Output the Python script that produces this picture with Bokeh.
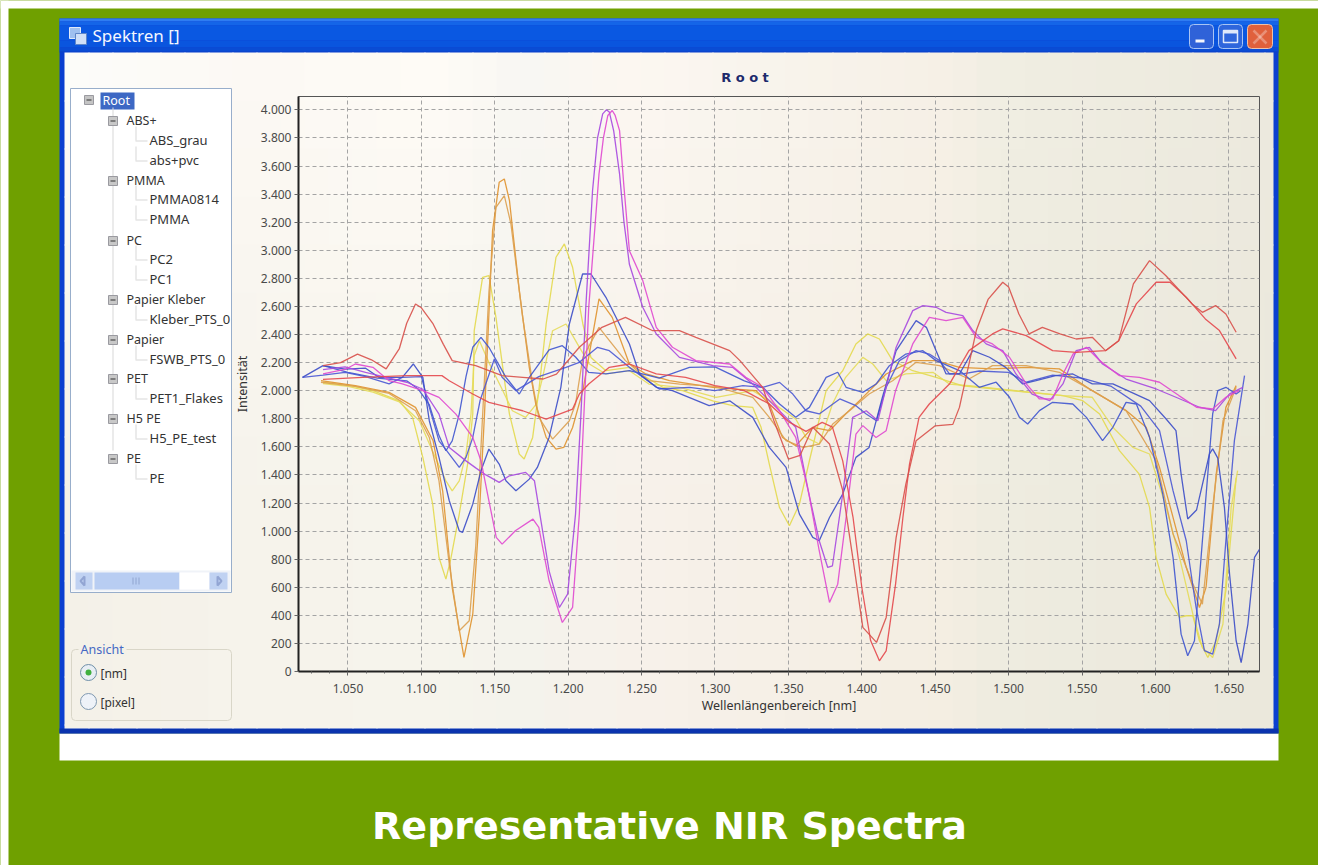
from bokeh.plotting import figure
from bokeh.embed import file_html
from bokeh.resources import INLINE
from bokeh.layouts import column
from bokeh.models import Range1d, FixedTicker, BoxAnnotation, Label, PolyAnnotation, LinearAxis, Grid

# ---------- chart content ----------
x_ticks = [1050, 1100, 1150, 1200, 1250, 1300, 1350, 1400, 1450, 1500, 1550, 1600, 1650]
x_minor = [1025.0, 1037.5, 1062.5, 1075.0, 1087.5, 1112.5, 1125.0, 1137.5, 1162.5, 1175.0, 1187.5, 1212.5, 1225.0, 1237.5,
           1262.5, 1275.0, 1287.5, 1312.5, 1325.0, 1337.5, 1362.5, 1375.0, 1387.5, 1412.5, 1425.0, 1437.5, 1462.5, 1475.0,
           1487.5, 1512.5, 1525.0, 1537.5, 1562.5, 1575.0, 1587.5, 1612.5, 1625.0, 1637.5, 1662.5]
x_tick_labels = ["1.050", "1.100", "1.150", "1.200", "1.250", "1.300", "1.350", "1.400", "1.450", "1.500", "1.550", "1.600", "1.650"]
y_ticks = [0, 200, 400, 600, 800, 1000, 1200, 1400, 1600, 1800, 2000, 2200, 2400, 2600, 2800, 3000, 3200, 3400, 3600, 3800, 4000]
y_tick_labels = ["0", "200", "400", "600", "800", "1.000", "1.200", "1.400", "1.600", "1.800", "2.000", "2.200", "2.400",
                 "2.600", "2.800", "3.000", "3.200", "3.400", "3.600", "3.800", "4.000"]

red1_nm = [1033, 1045, 1056.5, 1066, 1076, 1085, 1090, 1096, 1100, 1108, 1115, 1121, 1137, 1155, 1169, 1183, 1192, 1207.6, 1223, 1239, 1257.6,
           1275.8, 1287, 1310, 1317, 1332.5, 1340, 1350, 1358, 1366.6, 1378, 1387, 1394, 1400.7, 1410, 1416.6, 1423.4, 1430,
           1437, 1450, 1462, 1466.5, 1478, 1486, 1496, 1500, 1507, 1514, 1523, 1535, 1546, 1557, 1566, 1575, 1585, 1596,
           1607, 1625, 1632, 1641, 1648, 1655]
red1_int = [2178, 2200, 2260, 2220, 2155, 2300, 2480, 2617, 2590, 2475, 2330, 2214, 2178, 2107, 2095, 2083, 2118, 2309, 2451, 2522, 2427,
            2427, 2380, 2285, 2214, 2024, 1790, 1513, 1540, 1739, 1620, 1290, 800, 314, 207, 385, 955, 1335,
            1644, 1750, 1760, 1881, 2428, 2650, 2772, 2738, 2546, 2404, 2451, 2404, 2368, 2380, 2285, 2356, 2760, 2926,
            2820, 2618, 2558, 2606, 2546, 2416]
red2_nm = [1033, 1060, 1090, 1114, 1119, 1135, 1146, 1169, 1185, 1203, 1207.6, 1214, 1228, 1241.7, 1260, 1280, 1300, 1320,
           1337, 1350, 1362, 1373, 1380, 1387, 1394, 1400, 1406, 1412, 1416.6, 1423, 1428, 1432.5, 1439, 1446, 1459.7,
           1473, 1489, 1496, 1512, 1530, 1546, 1566, 1575, 1587, 1600.5, 1610, 1621, 1634, 1643.6, 1655]
red2_int = [2080, 2095, 2107, 2107, 2071, 1976, 1917, 1857, 1798, 1869, 1976, 2047, 2166, 2190, 2119, 2095, 2036, 2000,
            1905, 1780, 1710, 1774, 1740, 1500, 1100, 600, 220, 76, 147, 622, 1097, 1477, 1810, 1905, 2047,
            2285, 2404, 2440, 2392, 2285, 2273, 2285, 2356, 2618, 2772, 2772, 2665, 2511, 2428, 2226]

mag1_nm = [1033, 1048.6, 1055, 1067, 1078, 1087, 1101, 1112, 1123.5, 1135, 1140.6, 1146, 1151, 1155, 1164, 1176, 1180, 1187,
           1196, 1203, 1207.6, 1211, 1214, 1221, 1224, 1227, 1230, 1232, 1235, 1238, 1241.7, 1250.8, 1260, 1271, 1287, 1310, 1321, 1332.5,
           1344, 1355, 1364, 1371, 1378, 1383.6, 1389.3, 1396, 1400.7, 1409.7, 1416.6, 1423, 1434.7, 1446, 1457.4, 1468.8,
           1478, 1489, 1500.6, 1512, 1521, 1530, 1537, 1544, 1553, 1562, 1575.5, 1589, 1602.8, 1616, 1628, 1639, 1648, 1657]
mag1_int = [2120, 2154, 2190, 2166, 2071, 2048, 2000, 1952, 1833, 1667, 1501, 1216, 955, 907, 1002, 1085, 1026, 646,
            349, 456, 1121, 1900, 2594, 3544, 3800, 3960, 3995, 3960, 3852, 3450, 2997, 2784, 2451, 2309, 2214, 2190, 2095, 2024,
            1857, 1667, 1264, 860, 492, 622, 1097, 1691, 1751, 1667, 1715, 2000, 2333, 2522, 2499, 2522,
            2380, 2333, 2238, 2048, 1941, 1941, 2119, 2262, 2309, 2214, 2107, 2095, 2060, 1965, 1882, 1870, 1953, 2000]
mag2_nm = [1033, 1048, 1062, 1078, 1090, 1101, 1112, 1119, 1130.4, 1137, 1144, 1153, 1160, 1171, 1177, 1187, 1194, 1199.6,
           1205, 1208.7, 1212, 1216.6, 1220, 1223.5, 1226, 1228, 1231, 1235, 1238, 1241.7, 1250.8, 1260, 1275.8, 1298.5, 1312, 1325.7, 1341.6, 1355,
           1364, 1371, 1376.8, 1380, 1387, 1393.8, 1403, 1411, 1417.7, 1423.4, 1434.7, 1441.6, 1450.6, 1457.4, 1468.8,
           1475.6, 1484.7, 1496, 1505, 1516, 1528, 1537, 1546, 1555, 1564, 1580, 1600.5, 1614, 1630, 1641, 1650.5, 1659.5]
mag2_int = [2150, 2170, 2130, 2090, 2060, 2010, 1833, 1596, 1500, 1450, 1400, 1347, 1394, 1418, 1359, 717, 456, 551,
            1121, 1833, 2594, 3425, 3800, 3971, 4000, 3985, 3850, 3544, 3200, 2900, 2594, 2404, 2237, 2178, 2166, 2047, 1881, 1739,
            1264, 931, 741, 753, 1264, 1810, 1857, 1786, 2071, 2309, 2570, 2606, 2594, 2558, 2534,
            2428, 2333, 2285, 2119, 1976, 1929, 2048, 2285, 2309, 2190, 2083, 2012, 1953, 1882, 1858, 1977, 2024]

org1_nm = [1031.6, 1055, 1078, 1096, 1108, 1114.5, 1121, 1129, 1135, 1139.5, 1143, 1148.5, 1153, 1156.5, 1160, 1166.7, 1173.5,
           1178, 1185, 1191.7, 1197, 1203, 1210, 1221, 1230, 1241.7, 1253, 1269, 1298.5, 1328, 1337, 1346, 1355, 1366.6, 1378,
           1389, 1400.7, 1416.6, 1434.7, 1450.6, 1466.5, 1489, 1512, 1534.6, 1557, 1580, 1593.7, 1602.8, 1612, 1621, 1630,
           1634.5, 1641.4, 1648, 1655]
org1_int = [2071, 2036, 1988, 1881, 1643, 1287, 598, 100, 408, 1121, 1833, 3140, 3484, 3508, 3354, 2712, 2166,
            1900, 1667, 1584, 1596, 1738, 2000, 2653, 2522, 2190, 2119, 2071, 2024, 2000, 1905, 1667, 1608, 1739, 1715,
            1834, 1952, 2119, 2214, 2214, 2166, 2155, 2166, 2155, 2000, 1858, 1739, 1454, 1098, 742, 456,
            599, 1406, 1881, 2036]
org2_nm = [1031.6, 1055, 1078, 1096, 1105.4, 1112, 1119, 1125.8, 1132.6, 1137, 1140.6, 1146, 1150.8, 1156.5, 1161, 1169, 1175.8,
           1180, 1189.4, 1200.8, 1205, 1210, 1221, 1230, 1239, 1255, 1276, 1300, 1325.7, 1337, 1348.4, 1360, 1371, 1380.2,
           1391.6, 1405, 1421, 1437, 1453, 1473, 1489, 1512, 1534.6, 1557, 1580, 1600.5, 1612, 1625.5, 1632, 1639, 1646, 1655]
org2_int = [2060, 2030, 1980, 1857, 1667, 1358, 765, 290, 361, 884, 1596, 2700, 3306, 3389, 3187, 2522, 2047,
            1810, 1655, 1786, 1905, 2237, 2451, 2332, 2214, 2071, 2047, 2030, 1952, 1810, 1644, 1596, 1620, 1762,
            1857, 1976, 2071, 2202, 2178, 2083, 2178, 2178, 2131, 2000, 1858, 1501, 979, 623, 480, 1169, 1786, 2024]

yel1_nm = [1033, 1050, 1067, 1085, 1094, 1101, 1107.7, 1112, 1116.7, 1120, 1125.8, 1131.5, 1135, 1136, 1141.7, 1146, 1150.8, 1157.6,
           1160, 1166.7, 1170, 1175.8, 1180, 1185, 1191.7, 1197.4, 1203, 1210, 1215.5, 1225.7, 1241.7, 1264.4, 1278, 1298.5,
           1312, 1325.7, 1331.4, 1337, 1343.9, 1350.7, 1357.5, 1364.3, 1375.7, 1387, 1396, 1404, 1412, 1421, 1434.7, 1450.6,
           1468.8, 1537, 1550.5, 1562, 1575.5, 1589, 1596, 1600.5, 1607.3, 1616.4, 1621, 1625.5, 1630, 1635.7, 1641.4, 1648, 1655]
yel1_int = [2060, 2040, 2000, 1928, 1810, 1525, 1192, 812, 658, 800, 1121, 1477, 1833, 2427, 2807, 2819, 2522, 1999,
            1833, 1548, 1513, 1667, 2000, 2475, 2950, 3045, 2879, 2475, 2237, 2142, 2166, 2024, 2000, 1928,
            1893, 1881, 1739, 1477, 1169, 1038, 1192, 1501, 2000, 2142, 2332, 2404, 2368, 2214, 2142, 2095,
            2035, 1964, 1929, 1834, 1573, 1406, 1169, 813, 551, 385, 397, 397, 219, 100, 219, 575, 1380]
yel2_nm = [1033, 1050, 1067, 1085, 1098.6, 1108, 1116.7, 1121, 1125.8, 1130.4, 1133.8, 1136, 1139.5, 1146, 1155, 1162, 1171, 1178,
           1182.6, 1189.4, 1198.5, 1206.4, 1214.4, 1225.7, 1241.7, 1255, 1276, 1300.7, 1325.7, 1337, 1355, 1362, 1371, 1380,
           1389, 1400.7, 1407.5, 1416.6, 1430, 1448.4, 1459.7, 1473, 1537, 1557, 1571, 1584.6, 1596, 1607.3, 1616.4, 1625.5,
           1632, 1639, 1646, 1651.6, 1656]
yel2_int = [2050, 2030, 1990, 1920, 1786, 1560, 1358, 1287, 1358, 1548, 1833, 2250, 2356, 2200, 2010, 1857, 1810, 1900,
            2095, 2427, 2475, 2332, 2190, 2119, 2142, 2047, 2024, 1952, 2000, 1929, 1798, 1667, 1620, 1905,
            2095, 2237, 2190, 2071, 2119, 2131, 2047, 2035, 1964, 1953, 1739, 1596, 1549, 1169, 813, 409,
            171, 100, 338, 1169, 1430]

blu1_nm = [1019, 1033, 1048, 1062, 1071, 1087, 1094.5, 1101, 1105.4, 1112, 1119, 1125.8, 1128, 1135, 1140.6, 1146, 1153, 1157.6,
           1164.4, 1173.5, 1179, 1187, 1195, 1200.8, 1209.8, 1215.5, 1225.7, 1241.7, 1248.5, 1260, 1271, 1296, 1310, 1325.7,
           1337, 1348.4, 1357.5, 1366.6, 1371, 1378, 1387, 1396, 1405, 1414, 1423.4, 1437, 1444, 1450.6, 1457.4, 1466.5, 1475.6,
           1487, 1498, 1509.6, 1518.7, 1532, 1543.7, 1557, 1571, 1596, 1607.3, 1614, 1617.5, 1622, 1628, 1636.8, 1639, 1642.5,
           1647, 1650.5, 1655, 1658.4, 1663, 1667.5, 1671]
blu1_int = [2095, 2178, 2154, 2160, 2095, 2095, 2190, 2095, 1786, 1525, 1216, 1002, 990, 1192, 1430, 1584, 1477, 1358,
            1287, 1370, 1453, 1667, 2024, 2475, 2831, 2831, 2665, 2332, 2119, 2024, 2000, 1893, 1928, 1810,
            1596, 1454, 1121, 955, 931, 1097, 1264, 1525, 1596, 1952, 2285, 2499, 2451, 2285, 2119, 2119, 2285,
            2238, 2166, 2048, 2071, 2107, 2119, 2048, 2048, 1929, 1798, 1715, 1406, 1086, 1150, 1549, 1585, 1520,
            1169, 694, 219, 64, 338, 813, 872]
blu2_nm = [1019, 1033, 1048, 1062, 1078, 1087, 1100, 1105.4, 1112, 1116.7, 1125.8, 1130.4, 1135, 1140, 1149.7, 1155, 1164.4,
           1180, 1198.5, 1207.6, 1220, 1228, 1241.7, 1262, 1282.6, 1300, 1319, 1332.5, 1344, 1353, 1362, 1371, 1385, 1396, 1403,
           1410, 1416.6, 1425.6, 1437, 1446, 1453, 1459.7, 1468.8, 1480, 1500, 1512, 1530, 1550, 1570, 1590, 1602.8, 1612, 1621,
           1627.7, 1633.4, 1639, 1643.6, 1648, 1653.8, 1660.7]
blu2_int = [2095, 2110, 2130, 2100, 2048, 2095, 2100, 1881, 1643, 1580, 1453, 1525, 1667, 1930, 2226, 2095, 2000,
            2100, 2166, 2202, 2309, 2285, 2166, 2012, 2024, 2000, 2036, 2024, 2059, 1976, 1857, 1834, 1941, 1893, 1834,
            1786, 2024, 2214, 2285, 2261, 2214, 2119, 2119, 2140, 2130, 2060, 2110, 2090, 2030, 1890, 1715, 1288, 931,
            456, 148, 124, 338, 931, 1644, 2107]
blu3_nm = [1033, 1050, 1070, 1090, 1098, 1105.4, 1112, 1116.7, 1121, 1125.8, 1130.4, 1135, 1140.6, 1146, 1157.6, 1166.7, 1173.5,
           1187, 1196, 1205, 1214, 1225.7, 1241.7, 1262, 1282.6, 1300, 1320, 1332.5, 1344, 1355, 1364.3, 1375.7, 1383.6,
           1389.3, 1400.7, 1409.7, 1418.8, 1430, 1441.6, 1450.6, 1466.5, 1480, 1491.5, 1500.6, 1507.4, 1513, 1521, 1530, 1543.7,
           1553, 1564, 1571, 1580, 1587, 1596, 1605, 1612, 1617.5, 1622, 1626.6, 1632, 1639, 1642.5, 1648, 1655, 1658]
blu3_int = [2178, 2130, 2090, 2070, 2010, 1900, 1680, 1572, 1643, 1833, 2100, 2309, 2380, 2309, 2095, 1976, 2095,
            2290, 2320, 2240, 2130, 2119, 2142, 2090, 2166, 2170, 2070, 2024, 1905, 1810, 1881, 2095, 2131,
            2024, 1988, 2047, 2178, 2261, 2285, 2214, 2143, 2024, 2060, 1953, 1810, 1763, 1858, 1917, 1905,
            1810, 1644, 1739, 1917, 1905, 1668, 1264, 813, 266, 112, 219, 931, 1834, 2000, 2024, 1976, 2000]

# ---------- reference window furniture ----------
tree_labels = ["ABS+", "ABS_grau", "abs+pvc", "PMMA", "PMMA0814", "PMMA", "PC", "PC2", "PC1", "Papier Kleber", "Kleber_PTS_0",
               "Papier", "FSWB_PTS_0", "PET", "PET1_Flakes", "H5 PE", "H5_PE_test", "PE", "PE"]
tree_levels = [0, 1, 1, 0, 1, 1, 0, 1, 1, 0, 1, 0, 1, 0, 1, 0, 1, 0, 1]
tree_rows = [120, 140, 160, 180, 199, 219, 240, 259, 279, 299, 319, 339, 359, 378, 398, 418, 438, 458, 478]

OX, OY = 1, 0                          # where the backdrop canvas sits on the page
BW, BH = 1318, 865
FL, FR, FT, FB = 299, 1260, 96, 671    # plot frame on the page
CL, CT, CR, CB = 226, 62, 1272, 722    # chart canvas on the page

# backdrop: the window furniture, its frame fills the canvas
bg = figure(width=BW, height=BH, frame_width=BW, frame_height=BH, output_backend="svg", toolbar_location=None,
            x_range=Range1d(0, 1), y_range=Range1d(0, 1), x_axis_type=None, y_axis_type=None,
            min_border=0, min_border_left=0, min_border_right=0, min_border_top=0, min_border_bottom=0,
            frame_align=False, outline_line_color=None, border_fill_color="#6fa000", background_fill_color="#6fa000")
# chart: transparent round the frame
p = figure(width=CR - CL, height=CB - CT, output_backend="svg", toolbar_location=None,
           x_range=Range1d(1016.3, 1670.9), y_range=Range1d(0, 4095), x_axis_type=None, y_axis_type=None,
           min_border_left=FL - CL, min_border_right=CR - FR, min_border_top=FT - CT, min_border_bottom=CB - FB,
           frame_align=False, border_fill_color=None, background_fill_color=None, outline_line_color="#555555", outline_line_width=1,
           margin=(CT - OY - BH, 0, 0, CL - OX))


def box(l, t, r, b, color, line=None, lw=1, radius=0):
    a = BoxAnnotation(left=l - OX, right=r - OX, top=t - OY, bottom=b - OY,
                      left_units="canvas", right_units="canvas", top_units="canvas", bottom_units="canvas",
                      fill_color=color, fill_alpha=1 if color else 0,
                      line_color=line, line_width=lw, line_alpha=1 if line else 0, border_radius=radius)
    bg.add_layout(a)


def poly(xs, ys, color, lw=1.5):
    bg.add_layout(PolyAnnotation(xs=[x - OX for x in xs], ys=[y - OY for y in ys], xs_units="canvas", ys_units="canvas",
                                 fill_alpha=0, line_color=color, line_width=lw))


def text(x, y, s, size="12px", color="#333333", font="Noto Sans", style="normal", align="left", angle=0):
    bg.add_layout(Label(x=x - OX, y=y - OY, x_units="canvas", y_units="canvas", text=s, text_font=font, text_font_size=size,
                        text_color=color, text_font_style=style, text_align=align, text_baseline="middle",
                        angle=angle, angle_units="deg"))


def mix(a, b, t):
    return tuple(a[i] + (b[i] - a[i]) * t for i in range(3))


# page white corner
box(1, 0, 1319, 8, "#ffffff")
box(1, 0, 9, 865, "#ffffff")

# window frame
box(60, 18, 1279, 733, "#0a3fd0")
box(60, 733, 1279, 760, "#ffffff")
tb = [(18, "#2f7cf2"), (21, "#1565e8"), (25, "#0a58e2"), (40, "#0a55de"), (47, "#0a4cd4"), (51, "#0a44c8")]
for i, (y0, c) in enumerate(tb):
    box(60, y0, 1279, tb[i + 1][0] if i + 1 < len(tb) else 52, c)
box(60, 728, 1279, 733, "#0a33ae")

# soft window background, coarse tiles
cols_top = [(66, (252, 252, 250)), (250, (252, 249, 244)), (440, (254, 251, 246)), (520, (248, 247, 243)), (640, (252, 247, 241)),
            (720, (249, 245, 238)), (950, (246, 240, 230)), (1000, (240, 238, 226)), (1274, (236, 233, 222))]
cols_bot = [(66, (244, 241, 232)), (250, (246, 243, 235)), (440, (246, 244, 236)), (520, (244, 243, 236)), (640, (247, 241, 234)),
            (720, (246, 240, 232)), (950, (244, 238, 226)), (1000, (238, 236, 224)), (1274, (235, 232, 220))]


def col_at(table, x):
    for (x0, c0), (x1, c1) in zip(table, table[1:]):
        if x <= x1:
            return mix(c0, c1, (x - x0) / (x1 - x0))
    return table[-1][1]


for xx in range(65, 1274, 24):
    for yy in range(52, 728, 48):
        t = min(1.0, max(0.0, (yy + 24 - 70) / 420))
        c = mix(col_at(cols_top, xx + 12), col_at(cols_bot, xx + 12), t)
        box(xx, yy, min(xx + 25, 1274), min(yy + 49, 728), "#%02x%02x%02x" % tuple(int(round(v)) for v in c))

# buttons
box(1190, 24, 1214, 48, "#2f62d8", line="#a9c4f4", radius=4)
box(1196, 39, 1205, 42, "#f4f6fc")
box(1219, 24, 1243, 48, "#2f66dc", line="#a9c4f4", radius=4)
box(1224, 30, 1238, 42, None, line="#dfe8fa", lw=1.5)
box(1224, 30, 1238, 33, "#dfe8fa")
box(1248, 24, 1273, 48, "#e0603c", line="#f0c0a8", radius=4)
poly([1254, 1267], [30, 43], "#ffffff", 2.5)
poly([1267, 1254], [30, 43], "#ffffff", 2.5)
# window icon
box(70, 27, 81, 38, "#9fc0f0", line="#dfe9fa")
box(76, 33, 87, 44, "#cfdff8", line="#5f86c8")
text(93, 35, "Spektren []", size="17px", color="#f4f7ff")

# tree panel
box(71, 88, 232, 592, "#ffffff", line="#98aecb")
box(101, 92, 135, 109, "#3d68c4")
text(103, 100, "Root", color="#ffffff", size="12.5px")
box(85, 95, 94, 104, "#c4c4c4", line="#9a9aa0")
box(87, 99, 92, 100, "#333333")
box(113, 107, 114, 450, "#d8d8d8")
for lbl, lvl, row in zip(tree_labels, tree_levels, tree_rows):
    if lvl == 0:
        box(109, row - 4, 118, row + 5, "#c8c8c8", line="#9a9aa0")
        box(111, row, 116, row + 1, "#333333")
        text(127, row - 0.5, lbl, size="12.5px")
    else:
        box(136, row - 14, 137, row, "#d8d8d8")
        box(136, row, 148, row + 1, "#d8d8d8")
        text(150, row - 1, lbl, size="13px")
# scrollbar
box(72, 570, 231, 591, "#f0f3f8")
box(76, 572, 93, 589, "#c0d2f2")
box(95, 572, 180, 589, "#b8cdf2")
box(180, 572, 210, 589, "#ffffff")
box(210, 572, 228, 589, "#c0d2f2")
poly([85, 81, 85], [576, 580.5, 585], "#27408a", 2)
poly([218, 222, 218], [576, 580.5, 585], "#27408a", 2)
box(133, 577, 134, 584, "#8fa6d0")
box(136, 577, 137, 584, "#8fa6d0")
box(139, 577, 140, 584, "#8fa6d0")

# view box
box(72, 649, 232, 720, None, line="#d9d6c8", radius=4)
box(79, 643, 127, 655, "#f4f1e8")
text(81, 649, "Ansicht", color="#4468c4", size="12.5px")
box(81, 664, 97, 680, "#e8eef4", line="#6f8fa8", radius=8)
box(86, 669, 92, 675, "#40b040", radius=3)
text(101, 673, "[nm]")
box(81, 693, 97, 709, "#eef2f8", line="#7f98b0", radius=8)
text(101, 702, "[pixel]")

# titles
text(745.5, 77, "R o o t", size="13px", color="#1d2a6c", font="DejaVu Sans", style="bold", align="center")
text(670, 825, "Representative NIR Spectra", size="38px", color="#ffffff", font="DejaVu Sans", style="bold", align="center")

# axes
xa = LinearAxis(ticker=FixedTicker(ticks=x_ticks, minor_ticks=x_minor), axis_label="Wellenlängenbereich [nm]",
                major_label_overrides=dict(zip(x_ticks, x_tick_labels)))
ya = LinearAxis(ticker=FixedTicker(ticks=y_ticks), axis_label="Intensität",
                major_label_overrides=dict(zip(y_ticks, y_tick_labels)))
for a in (xa, ya):
    a.axis_line_color = "#222222"
    a.axis_line_width = 2
    a.major_tick_in = 0
    a.major_tick_out = 4
    a.minor_tick_in = 0
    a.minor_tick_out = 2
    a.major_tick_line_color = "#666666"
    a.minor_tick_line_color = "#666666"
    a.major_label_text_font = "Noto Sans"
    a.major_label_text_font_size = "12px"
    a.major_label_text_color = "#4a4a4a"
    a.axis_label_text_font = "Noto Sans"
    a.axis_label_text_font_style = "normal"
    a.axis_label_text_font_size = "12.5px"
    a.axis_label_text_color = "#333333"
xa.major_label_standoff = 8
xa.axis_label_standoff = 1
ya.major_label_standoff = 3
ya.axis_label_standoff = 7
p.add_layout(xa, "below")
p.add_layout(ya, "left")
for dim, ax in ((0, xa), (1, ya)):
    p.add_layout(Grid(dimension=dim, ticker=ax.ticker, grid_line_color="#a4a4a4", grid_line_dash="4 3", grid_line_width=1))

# spectra
series = [(yel1_nm, yel1_int, "#e3d94e"), (yel2_nm, yel2_int, "#e6dc5a"),
          (org1_nm, org1_int, "#e0922e"), (org2_nm, org2_int, "#dca050"),
          (blu3_nm, blu3_int, "#3f55cf"), (blu2_nm, blu2_int, "#4a58d4"), (blu1_nm, blu1_int, "#3b4cc8"),
          (mag2_nm, mag2_int, "#a648e0"), (mag1_nm, mag1_int, "#e048d0"),
          (red2_nm, red2_int, "#e4484c"), (red1_nm, red1_int, "#d8504a")]
for nm, val, col in series:
    p.line(nm, val, line_color=col, line_width=1.3, line_alpha=0.9)

page = column(bg, p, spacing=0)
open("out.html", "w").write(file_html(page, INLINE))
